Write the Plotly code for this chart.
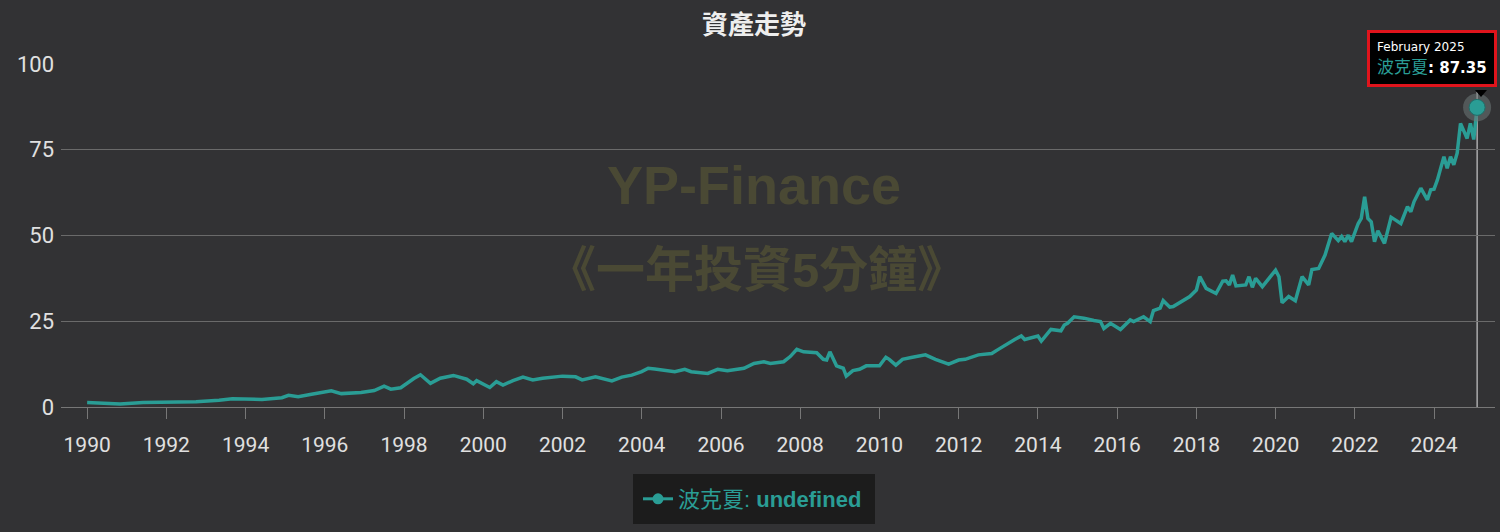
import plotly.graph_objects as go

dates = [
    "1990-01", "1990-06", "1990-11", "1991-06", "1992-01", "1992-10", "1993-05", "1993-09",
    "1994-06", "1994-12", "1995-02", "1995-05", "1995-09", "1996-01", "1996-03", "1996-06",
    "1996-12", "1997-04", "1997-07", "1997-09", "1997-12", "1998-04", "1998-06", "1998-09",
    "1998-12", "1999-04", "1999-08", "1999-10", "1999-11", "2000-03", "2000-05", "2000-07",
    "2000-10", "2001-01", "2001-04", "2001-07", "2002-01", "2002-05", "2002-07", "2002-11",
    "2003-01", "2003-04", "2003-07", "2003-10", "2004-01", "2004-03", "2004-05", "2004-11",
    "2005-02", "2005-04", "2005-09", "2005-12", "2006-03", "2006-08", "2006-11", "2007-02",
    "2007-04", "2007-08", "2007-10", "2007-12", "2008-02", "2008-06", "2008-08", "2008-09",
    "2008-10", "2008-12", "2009-02", "2009-03", "2009-05", "2009-07", "2009-09", "2010-01",
    "2010-03", "2010-04", "2010-06", "2010-08", "2010-11", "2011-03", "2011-06", "2011-10",
    "2012-01", "2012-03", "2012-07", "2012-11", "2013-01", "2013-04", "2013-06", "2013-08",
    "2013-09", "2014-01", "2014-02", "2014-05", "2014-08", "2014-09", "2014-10", "2014-12",
    "2015-03", "2015-06", "2015-08", "2015-09", "2015-11", "2016-02", "2016-05", "2016-06",
    "2016-09", "2016-11", "2016-12", "2017-02", "2017-03", "2017-05", "2017-06", "2017-11",
    "2018-01", "2018-02", "2018-04", "2018-07", "2018-09", "2018-10", "2018-11", "2018-12",
    "2019-01", "2019-04", "2019-05", "2019-06", "2019-07", "2019-09", "2020-01", "2020-02",
    "2020-03", "2020-05", "2020-07", "2020-09", "2020-11", "2020-12", "2021-02", "2021-04",
    "2021-06", "2021-08", "2021-09", "2021-10", "2021-11", "2021-12", "2022-02", "2022-03",
    "2022-04", "2022-05", "2022-06", "2022-07", "2022-08", "2022-10", "2022-12", "2023-01",
    "2023-03", "2023-05", "2023-06", "2023-07", "2023-09", "2023-11", "2023-12", "2024-01",
    "2024-02", "2024-04", "2024-05", "2024-06", "2024-07", "2024-08", "2024-09", "2024-11",
    "2024-12", "2025-01", "2025-02",
]
values = [
    1.3, 1.0, 0.9, 1.3, 1.4, 1.5, 2.0, 2.4,
    2.2, 2.7, 3.4, 3.0, 3.7, 4.2, 4.7, 3.9,
    4.2, 4.8, 6.1, 5.2, 5.6, 8.3, 9.4, 6.9,
    8.4, 9.2, 8.1, 6.8, 7.7, 5.7, 7.4, 6.4,
    7.7, 8.7, 7.9, 8.4, 9.0, 8.8, 7.9, 8.8,
    8.4, 7.6, 8.7, 9.3, 10.3, 11.3, 11.1, 10.3,
    11.0, 10.3, 9.8, 11.0, 10.6, 11.3, 12.7, 13.2,
    12.7, 13.2, 14.7, 16.8, 16.1, 15.8, 13.9, 13.7,
    16.1, 12.0, 11.3, 9.0, 10.6, 11.0, 12.0, 12.0,
    14.5, 13.9, 12.2, 13.9, 14.5, 15.2, 13.9, 12.5,
    13.7, 13.9, 15.2, 15.6, 16.8, 18.6, 19.7, 20.7,
    19.7, 20.7, 19.2, 22.6, 22.2, 23.9, 24.4, 26.3,
    25.9, 25.2, 24.9, 22.9, 24.4, 22.6, 25.4, 24.9,
    26.3, 24.9, 28.1, 28.8, 31.0, 29.1, 29.3, 32.2,
    34.1, 38.0, 34.6, 33.1, 36.7, 36.8, 35.6, 38.5,
    35.3, 35.6, 38.0, 34.9, 37.5, 35.1, 39.9, 38.0,
    30.4, 32.2, 31.0, 38.0, 35.6, 40.1, 40.4, 44.3,
    50.6, 48.5, 49.7, 48.2, 50.1, 48.2, 53.5, 55.0,
    61.3, 55.0, 54.0, 48.2, 51.4, 47.7, 55.3, 54.7,
    53.5, 58.4, 56.9, 59.9, 63.8, 60.4, 63.3, 63.5,
    66.2, 73.0, 69.6, 73.0, 70.6, 74.0, 82.7, 78.3,
    82.7, 78.0, 87.35,
]

series_name = "波克夏"
title_text = "資產走勢"
watermark_lines = ["YP-Finance", "《一年投資5分鐘》"]
tooltip_date = "February 2025"
y_ticks = [0, 25, 50, 75, 100]

TEAL = "#2a9d95"
BG = "#323234"
W, H = 1500, 532
L, R, T, B = 61, 5, 64, 125
PW, PH = W - L - R, H - T - B


def px_x(x):
    return (x - L) / PW


def px_y(y):
    return (H - B - y) / PH


fig = go.Figure()

fig.add_trace(go.Scatter(
    x=dates, y=values, mode="lines", name=series_name,
    line=dict(color=TEAL, width=3.5), showlegend=False, hoverinfo="skip",
))
# legend entry
fig.add_trace(go.Scatter(
    x=[None], y=[None], mode="lines+markers",
    name=f"{series_name}: <b>undefined</b>",
    line=dict(color=TEAL, width=3), marker=dict(color=TEAL, size=11),
    showlegend=True,
))
# highlighted last point (halo + marker)
fig.add_trace(go.Scatter(
    x=[dates[-1]], y=[values[-1]], mode="markers", showlegend=False, hoverinfo="skip",
    marker=dict(size=28, color="rgba(110,120,120,0.55)", line=dict(width=0)),
))
fig.add_trace(go.Scatter(
    x=[dates[-1]], y=[values[-1]], mode="markers", showlegend=False, hoverinfo="skip",
    marker=dict(size=16, color=TEAL, line=dict(width=1, color="#1f6f6a")),
))

annotations = [
    dict(text=f"<b>{title_text}</b>", xref="paper", yref="paper",
         x=px_x(754), y=px_y(23), xanchor="center", yanchor="middle", showarrow=False,
         font=dict(family="Noto Sans CJK TC", size=26, color="#eeeeee")),
    dict(text=f"<b>{watermark_lines[0]}</b>", xref="paper", yref="paper",
         x=px_x(754), y=px_y(185), xanchor="center", yanchor="middle", showarrow=False,
         font=dict(family="Liberation Sans, Noto Sans CJK TC", size=54, color="#4a4934")),
    dict(text=f"<b>{watermark_lines[1]}</b>", xref="paper", yref="paper",
         x=px_x(756), y=px_y(270), xanchor="center", yanchor="middle", showarrow=False,
         font=dict(family="Liberation Sans, Noto Sans CJK TC", size=49, color="#4a4934")),
    dict(text=(f"<span style='font-size:12px'>{tooltip_date}</span><br>"
               f"<span style='color:{TEAL};font-size:17px'>{series_name}</span>"
               f"<b style='font-size:15px'>: {values[-1]:.2f}</b>"),
         xref="paper", yref="paper", x=px_x(1497), y=px_y(30),
         xanchor="right", yanchor="top", align="left", showarrow=False,
         bgcolor="#000000", bordercolor="#e0141c", borderwidth=3, borderpad=7,
         font=dict(family="DejaVu Sans, Noto Sans CJK TC", size=17, color="#ffffff")),
]

shapes = [
    # crosshair
    dict(type="line", xref="x", yref="paper", x0=dates[-1], x1=dates[-1],
         y0=0, y1=px_y(92), line=dict(color="#e6e6e6", width=1), layer="below"),
    # tooltip pointer
    dict(type="path", xref="paper", yref="paper",
         path=(f"M {px_x(1475)} {px_y(90)} L {px_x(1487)} {px_y(90)} "
               f"L {px_x(1481)} {px_y(97)} Z"),
         fillcolor="#000000", line=dict(width=0)),
    # legend box
    dict(type="rect", xref="paper", yref="paper", x0=px_x(633), x1=px_x(875),
         y0=px_y(524), y1=px_y(474), fillcolor="#1c1c1c", line=dict(width=0), layer="below"),
]

fig.update_layout(
    width=W, height=H,
    paper_bgcolor=BG, plot_bgcolor=BG,
    margin=dict(l=L, r=R, t=T, b=B),
    annotations=annotations, shapes=shapes,
    showlegend=True,
    legend=dict(orientation="h", x=px_x(638), y=px_y(499), xanchor="left", yanchor="middle",
                bgcolor="rgba(0,0,0,0)", font=dict(family="Liberation Sans, Noto Sans CJK TC",
                                                   size=22, color=TEAL)),
    xaxis=dict(type="date", range=["1989-05-05", "2025-07-16"], tickformat="%Y",
               dtick="M24", tick0="1990-01-01", ticks="outside", ticklen=11,
               tickcolor="#777777", showline=True, linecolor="#777777", linewidth=1,
               showgrid=False, zeroline=False, ticklabelstandoff=8,
               tickfont=dict(family="Roboto", size=21, color="#e0e0e0")),
    yaxis=dict(range=[0, 100], tickvals=y_ticks, showgrid=True, gridcolor="#6a6a6a",
               gridwidth=1, zeroline=False, showline=False, ticks="",
               ticklabelstandoff=6,
               tickfont=dict(family="Roboto", size=22, color="#e0e0e0")),
)

fig.write_html("out.html", config={"displayModeBar": False},
               post_script="document.body.style.margin='0';")
